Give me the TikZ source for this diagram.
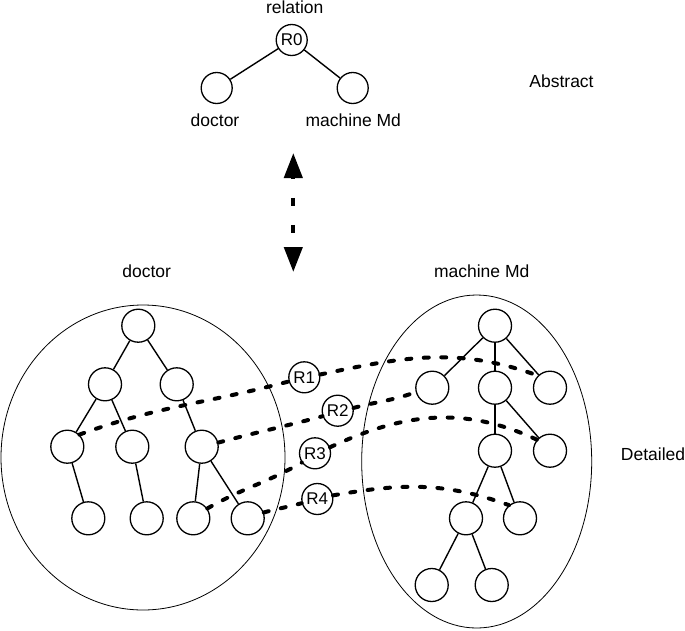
\documentclass[tikz,border=0pt]{standalone}
\usepackage{fontspec}
\setmainfont{Liberation Sans}
\usetikzlibrary{arrows.meta,positioning,calc}

\begin{document}
\begin{tikzpicture}[
        x=1pt, y=-1pt,
        every node/.style={color=black, font=\fontsize{17.5}{20}\selectfont},
        tn/.style={circle, draw, fill=white, line width=1.3pt,
            minimum size=33pt, inner sep=0pt},
        sn/.style={tn, minimum size=31pt},
        rel/.style={sn, font=\fontsize{17}{19}\selectfont},
        txt/.style={inner sep=0pt},
        edge/.style={line width=1.4pt},
        blob/.style={line width=0.8pt},
        link/.style={line width=4pt, line cap=round,
            dash pattern=on 5pt off 12.5pt},
        updown/.style={line width=4.2pt, dash pattern=on 8pt off 19pt,
            dash phase=6pt, >={Triangle[length=25pt,width=18pt]}, <->},
    ]
    \useasboundingbox (0,0) rectangle (685,630);

    % abstract level
    \node[rel] at (291.7,40) (r0) {R0};
    \node[sn] at (216.7,88) (a_doc) {};
    \node[sn] at (352.7,88) (a_mach) {};
    \draw[edge] (r0) -- (a_doc);
    \draw[edge] (r0) -- (a_mach);
    \node[txt] at (294.7,7) (t_rel) {relation};
    \node[txt] at (215,120) (t_adoc) {doctor};
    \node[txt] at (353.3,120) (t_amach) {machine Md};
    \node[txt] at (561.5,81) (t_abs) {Abstract};

    % between the levels
    \coordinate (up) at (293.3,153);
    \coordinate (down) at (293.3,272);
    \draw[updown] (up) -- (down);

    % detailed level
    \node[txt] at (146.7,271.7) (t_doc) {doctor};
    \node[txt] at (481.7,271.7) (t_mach) {machine Md};
    \node[txt] at (653,454) (t_det) {Detailed};
    \draw[blob] (143,457.5) ellipse [x radius=142pt, y radius=152.5pt];
    \draw[blob] (476.7,461.5) ellipse [x radius=115pt, y radius=166.5pt];

    % doctor tree
    \node[tn] at (138.3,325.7) (l_root) {};
    \node[tn] at (105,384.3) (la1) {};
    \node[tn] at (176.7,384.3) (lb1) {};
    \node[tn] at (67.3,446.7) (la2) {};
    \node[tn] at (132.3,446.7) (lb2) {};
    \node[tn] at (201.7,446.7) (lc2) {};
    \node[tn] at (88.3,518.3) (la3) {};
    \node[tn] at (146.7,518.3) (lb3) {};
    \node[tn] at (193.3,518.3) (lc3) {};
    \node[tn] at (247.7,518.3) (ld3) {};
    \draw[edge] (l_root) -- (la1);
    \draw[edge] (l_root) -- (lb1);
    \draw[edge] (la1) -- (la2);
    \draw[edge] (la1) -- (lb2);
    \draw[edge] (lb1) -- (lc2);
    \draw[edge] (la2) -- (la3);
    \draw[edge] (lb2) -- (lb3);
    \draw[edge] (lc2) -- (lc3);
    \draw[edge] (lc2) -- (ld3);

    % machine tree
    \node[tn] at (495,325.7) (m_root) {};
    \node[tn] at (432.3,387.7) (ra1) {};
    \node[tn] at (495,387.7) (rb1) {};
    \node[tn] at (550,387.7) (rc1) {};
    \node[tn] at (495,450.7) (ra2) {};
    \node[tn] at (550,450.7) (rb2) {};
    \node[tn] at (466,518.3) (ra3) {};
    \node[tn] at (520,518.3) (rb3) {};
    \node[tn] at (431.7,585) (ra4) {};
    \node[tn] at (491.7,585) (rb4) {};
    \draw[edge] (m_root) -- (ra1);
    \draw[edge] (m_root) -- (rb1);
    \draw[edge] (m_root) -- (rc1);
    \draw[edge] (rb1) -- (ra2);
    \draw[edge] (rb1) -- (rb2);
    \draw[edge] (ra2) -- (ra3);
    \draw[edge] (ra2) -- (rb3);
    \draw[edge] (ra3) -- (ra4);
    \draw[edge] (ra3) -- (rb4);

    % relations between the trees
    \node[rel] at (304.3,377.3) (r1) {R1};
    \node[rel] at (337.7,410.7) (r2) {R2};
    \node[rel] at (315,453.3) (r3) {R3};
    \node[rel] at (317.3,499) (r4) {R4};
    \draw[link] (la2.45) to [out=20,in=195] (r1.195);
    \draw[link] (r1.10) to [out=12,in=160] (rc1.135);
    \draw[link] (lc2.14) to [out=15,in=195] (r2.200);
    \draw[link] (r2.10) to [out=15,in=200] (ra1.195);
    \draw[link] (lc3.35) to [out=30,in=210] (r3.215);
    \draw[link] (r3.22) to [out=25,in=155] (rb2.140);
    \draw[link] (ld3.20) to [out=15,in=195] (r4.195);
    \draw[link] (r4.13) to [out=10,in=160] (rb3.130);
\end{tikzpicture}
\end{document}
